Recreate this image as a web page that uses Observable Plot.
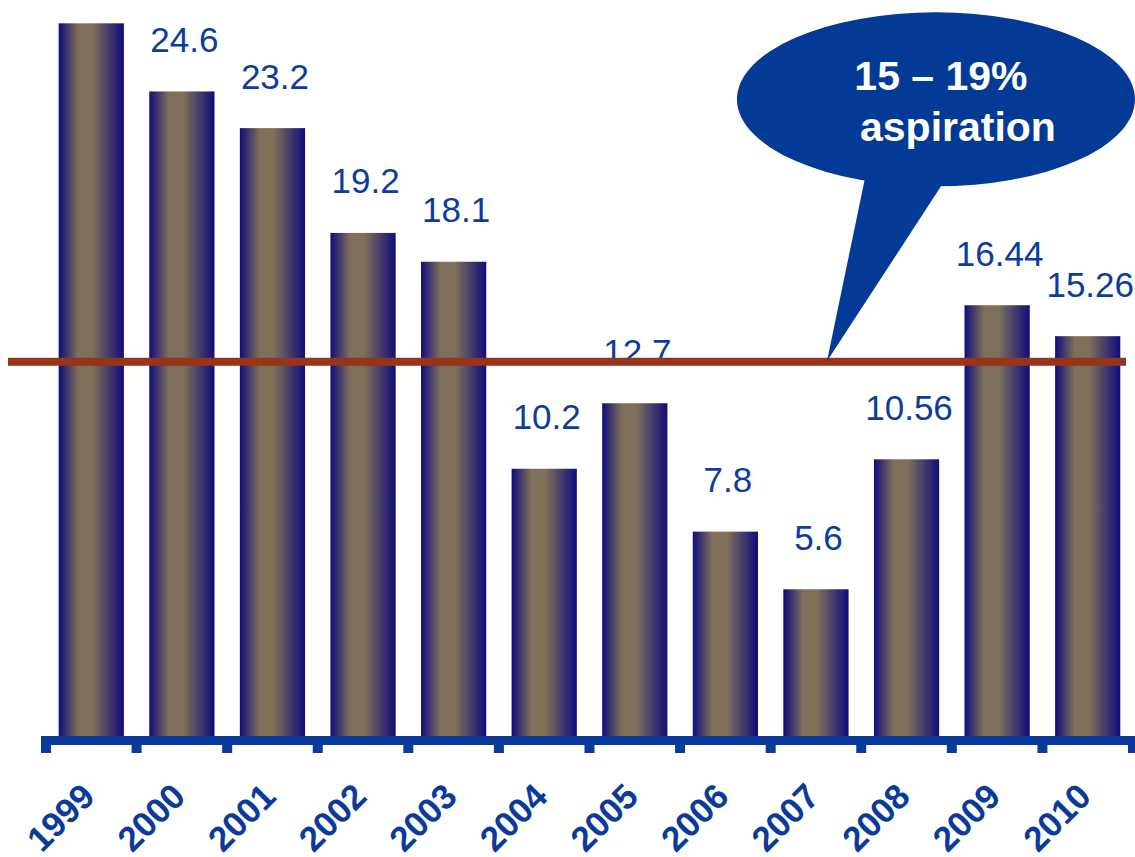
<!DOCTYPE html>
<html>
<head>
<meta charset="utf-8">
<script src="https://cdn.jsdelivr.net/npm/d3@7"></script>
<script src="https://cdn.jsdelivr.net/npm/@observablehq/plot@0.6"></script>
<style>
  html, body { margin: 0; padding: 0; background: #ffffff; }
  #chart { width: 1135px; height: 857px; overflow: hidden; }
</style>
</head>
<body>
<div id="chart"></div>
<script>
// ---- data ----
const years = ["1999", "2000", "2001", "2002", "2003", "2004", "2005", "2006", "2007", "2008", "2009", "2010"];
const values = [27.2, 24.6, 23.2, 19.2, 18.1, 10.2, 12.7, 7.8, 5.6, 10.56, 16.44, 15.26];
const valueLabels = [null, "24.6", "23.2", "19.2", "18.1", "10.2", "12.7", "7.8", "5.6", "10.56", "16.44", "15.26"];
const target = 14.3;
const calloutLines = ["15 \u2013 19%", "aspiration"];
const calloutYear = "2007";

const data = years.map((year, i) => ({year, value: values[i], label: valueLabels[i]}));

const blue = "#0a3a9a";
const labelBlue = "#0b3c9e";
const lineColor = "#97351a";
const bubbleColor = "#033a96";
const font = "Arial, 'Liberation Sans', Helvetica, sans-serif";

function defsMark() {
  const svg = d3.create("svg:defs");
  const g = svg.append("linearGradient").attr("id", "barGrad")
    .attr("x1", "0").attr("y1", "0").attr("x2", "1").attr("y2", "0");
  g.append("stop").attr("offset", "0").attr("stop-color", "#110c7b");
  g.append("stop").attr("offset", "0.3").attr("stop-color", "#7e705a");
  g.append("stop").attr("offset", "0.52").attr("stop-color", "#7e705a");
  g.append("stop").attr("offset", "1").attr("stop-color", "#110c7b");
  return svg.node();
}

function axisMark(index, scales, values, dims) {
  const x = scales.x, y = scales.y;
  const step = x(years[1]) - x(years[0]);
  const bw = x.bandwidth ? x.bandwidth() : step * 0.72;
  const gap = step - bw;
  const y0 = y(0);
  const x0 = x(years[0]) - gap / 2;
  const g = d3.create("svg:g");
  g.append("rect").attr("x", x0 - 5).attr("y", y0).attr("width", dims.width - (x0 - 5)).attr("height", 9).attr("fill", blue);
  for (let k = 0; k <= years.length; k++) {
    g.append("rect").attr("x", x0 + k * step - 5).attr("y", y0 + 9).attr("width", 10).attr("height", 8).attr("fill", blue);
  }
  return g.node();
}

function calloutMark(index, scales) {
  const x = scales.x, y = scales.y;
  const bw = x.bandwidth ? x.bandwidth() : 65;
  const tx = x(calloutYear) + bw / 2 + 11, ty = y(target);
  const cx = tx + 109, cy = ty - 262;
  const g = d3.create("svg:g");
  g.append("path")
    .attr("d", `M${tx},${ty} L${tx + 38},${ty - 183} L${tx + 116},${ty - 178} Z`)
    .attr("fill", bubbleColor);
  g.append("ellipse").attr("cx", cx).attr("cy", cy).attr("rx", 199).attr("ry", 87).attr("fill", bubbleColor);
  g.append("text").attr("x", cx + 5).attr("y", cy - 9).attr("text-anchor", "middle")
    .attr("fill", "#ffffff").attr("font-weight", "bold").attr("font-size", 41).attr("font-family", font)
    .text(calloutLines[0]);
  g.append("text").attr("x", cx + 22).attr("y", cy + 42).attr("text-anchor", "middle")
    .attr("fill", "#ffffff").attr("font-weight", "bold").attr("font-size", 41).attr("font-family", font)
    .text(calloutLines[1]);
  return g.node();
}

const plot = Plot.plot({
  width: 1135,
  height: 857,
  marginLeft: 46,
  marginRight: 2,
  marginTop: 22,
  marginBottom: 121,
  x: {domain: years, paddingInner: 0.28, paddingOuter: 0.14, round: false, axis: null},
  y: {domain: [0, 27.25], axis: null},
  style: {fontFamily: font, background: "#ffffff", overflow: "visible"},
  marks: [
    defsMark,
    Plot.barY(data, {x: "year", y: "value", fill: "url(#barGrad)"}),
    Plot.text(data.filter(d => d.label), {
      x: "year", y: "value", text: "label",
      lineAnchor: "bottom", dy: -40, dx: 2,
      fontSize: 35, fill: labelBlue
    }),
    Plot.ruleY([target], {stroke: lineColor, strokeWidth: 8, insetLeft: -38, insetRight: 7}),
    axisMark,
    Plot.text(years, {
      x: d => d, y: () => 0, text: d => d,
      rotate: -45, textAnchor: "end", lineAnchor: "middle",
      dy: 54, dx: -3,
      fontSize: 35, fontWeight: "bold", fill: blue
    }),
    calloutMark
  ]
});

document.getElementById("chart").appendChild(plot);
</script>
</body>
</html>
